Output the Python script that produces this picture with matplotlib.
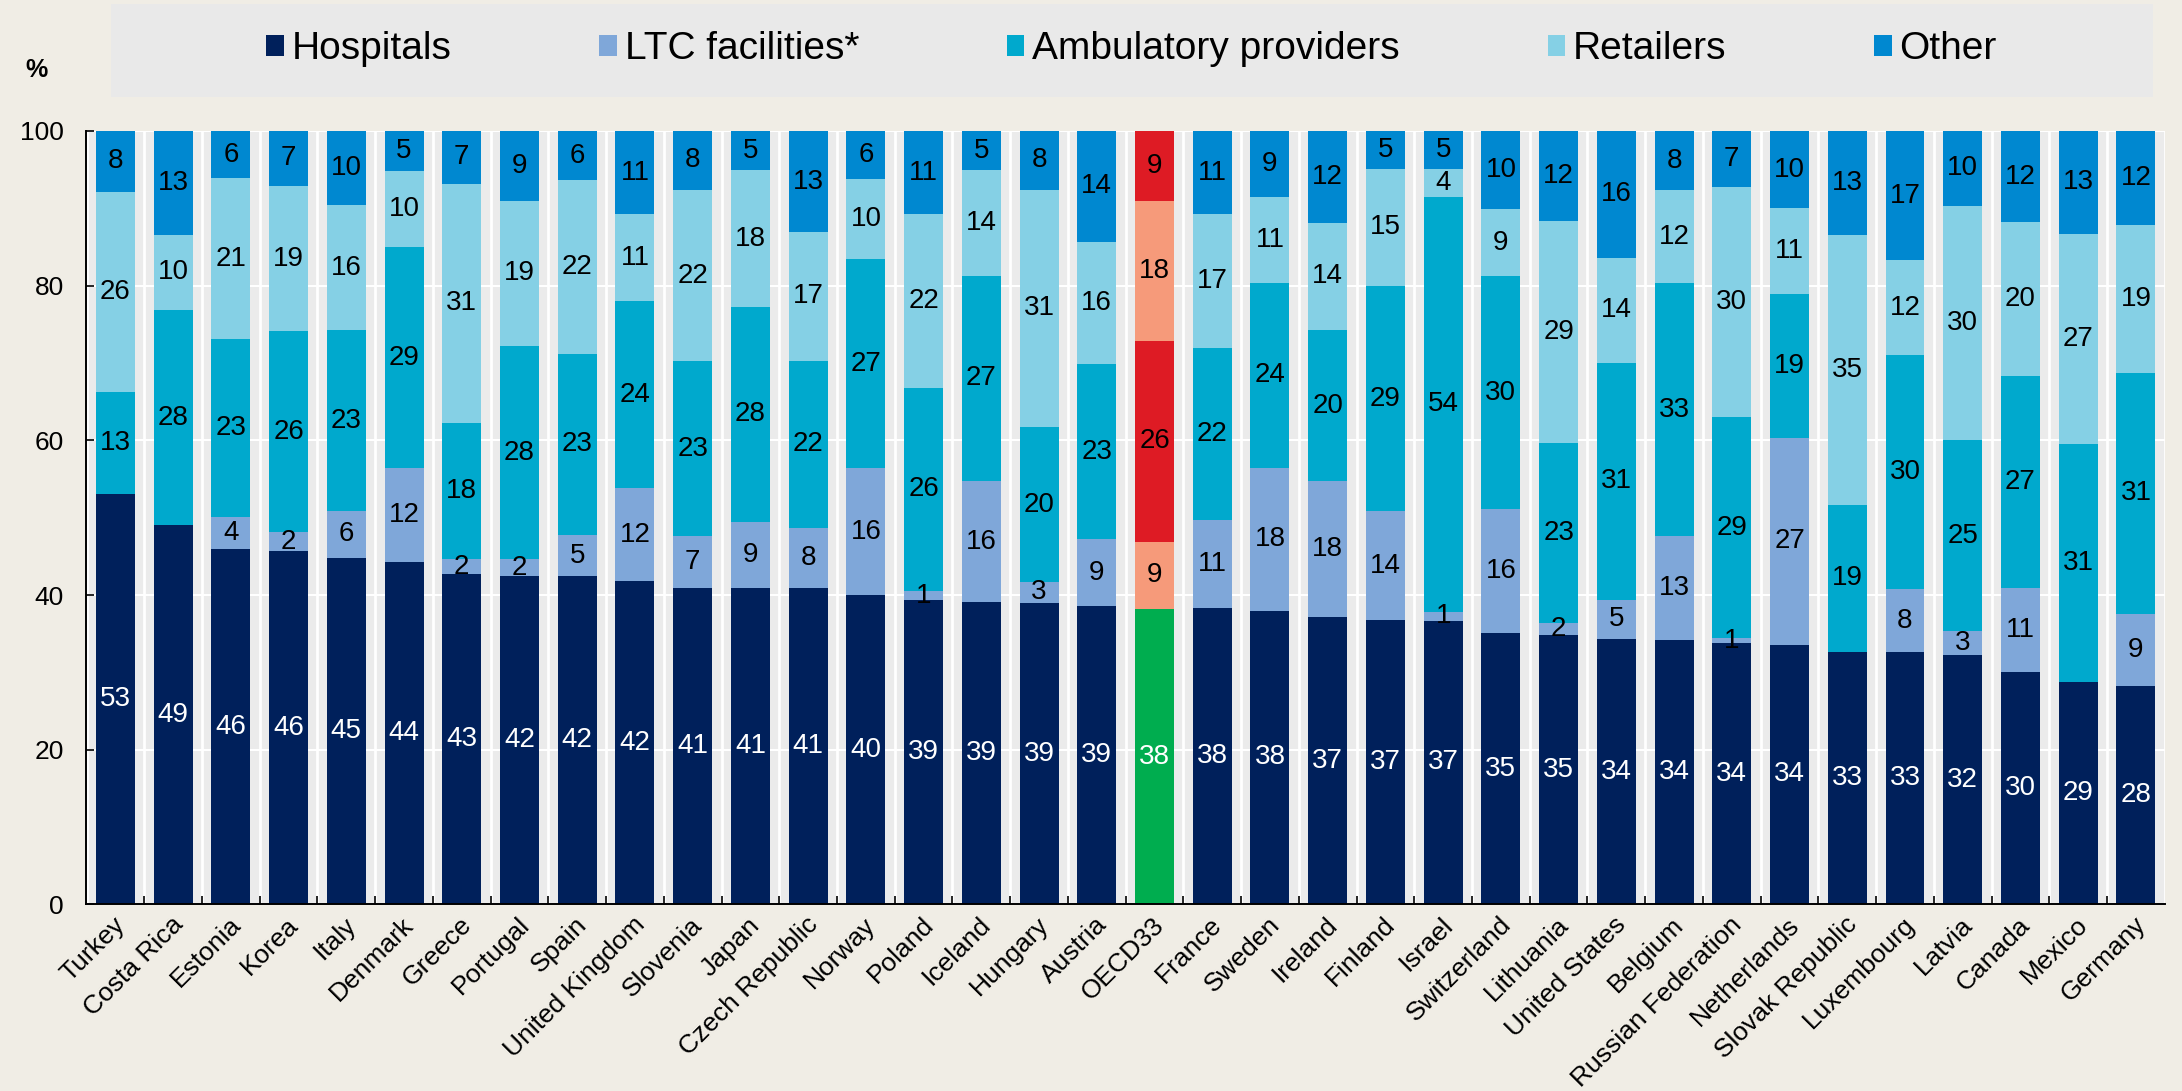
import matplotlib
matplotlib.use('Agg')
import matplotlib.pyplot as plt
from matplotlib.patches import Rectangle
from matplotlib.transforms import ScaledTranslation
import numpy as np

plt.rcParams['font.family'] = ['Liberation Sans', 'DejaVu Sans']

countries = ['Turkey', 'Costa Rica', 'Estonia', 'Korea', 'Italy', 'Denmark', 'Greece', 'Portugal',
             'Spain', 'United Kingdom', 'Slovenia', 'Japan', 'Czech Republic', 'Norway', 'Poland',
             'Iceland', 'Hungary', 'Austria', 'OECD33', 'France', 'Sweden', 'Ireland', 'Finland',
             'Israel', 'Switzerland', 'Lithuania', 'United States', 'Belgium', 'Russian Federation',
             'Netherlands', 'Slovak Republic', 'Luxembourg', 'Latvia', 'Canada', 'Mexico', 'Germany']

hospitals = [53.1, 49.1, 45.9, 45.7, 44.8, 44.3, 42.7, 42.5, 42.4, 41.8, 40.9, 40.9, 40.9, 40.0, 39.3,
             39.1, 39.0, 38.6, 38.2, 38.3, 38.0, 37.1, 36.8, 36.7, 35.1, 34.8, 34.3, 34.2, 33.8,
             33.6, 32.6, 32.6, 32.3, 30.0, 28.8, 28.2]
ltc = [0.0, 0.0, 4.2, 2.4, 6.1, 12.1, 1.9, 2.1, 5.4, 12.0, 6.7, 8.6, 7.8, 16.4, 1.2,
       15.6, 2.7, 8.6, 8.7, 11.4, 18.4, 17.6, 14.0, 1.1, 16.0, 1.6, 5.1, 13.4, 0.6,
       26.7, 0.0, 8.2, 3.0, 10.9, 0.0, 9.4]
ambulatory = [13.1, 27.7, 23.0, 26.0, 23.3, 28.6, 17.7, 27.6, 23.4, 24.2, 22.6, 27.7, 21.6, 27.0, 26.3,
              26.6, 20.0, 22.7, 25.9, 22.3, 24.0, 19.6, 29.2, 53.7, 30.1, 23.2, 30.6, 32.7, 28.6,
              18.6, 19.1, 30.2, 24.7, 27.4, 30.7, 31.1]
retailers = [25.9, 9.8, 20.8, 18.8, 16.2, 9.8, 30.9, 18.8, 22.4, 11.2, 22.2, 17.7, 16.6, 10.4, 22.4,
             13.6, 30.7, 15.8, 18.2, 17.2, 11.0, 13.8, 15.1, 3.6, 8.7, 28.7, 13.6, 12.0, 29.7,
             11.1, 34.9, 12.3, 30.3, 19.9, 27.2, 19.2]
other = [7.9, 13.4, 6.1, 7.1, 9.6, 5.2, 6.8, 9.0, 6.4, 10.8, 7.6, 5.1, 13.1, 6.2, 10.8,
         5.1, 7.6, 14.3, 9.0, 10.8, 8.6, 11.9, 4.9, 4.9, 10.1, 11.7, 16.4, 7.7, 7.3,
         10.0, 13.4, 16.7, 9.7, 11.8, 13.3, 12.1]

series_names = ['Hospitals', 'LTC facilities*', 'Ambulatory providers', 'Retailers', 'Other']
series_colors = ['#00205b', '#7fa7d9', '#00a9cd', '#85d0e5', '#0088d0']
oecd_colors = ['#00ad4f', '#f69a7a', '#de1b24', '#f69a7a', '#de1b24']
label_colors = ['white', 'black', 'black', 'black', 'black']

fig = plt.figure(figsize=(21.82, 10.91), dpi=100, facecolor='#f0ede5')
ax = fig.add_axes([0.0394, 0.171, 0.9527, 0.709])
ax.set_facecolor('#ebebeb')

x = np.arange(len(countries))
bottoms = np.zeros(len(countries))
for name, vals, col, ocol, tcol in zip(series_names, [hospitals, ltc, ambulatory, retailers, other],
                                       series_colors, oecd_colors, label_colors):
    vals = np.array(vals)
    colors = [ocol if c == 'OECD33' else col for c in countries]
    ax.bar(x, vals, 0.675, bottom=bottoms, color=colors, label=name, zorder=3)
    for xi, v, b in zip(x, vals, bottoms):
        if v > 0:
            ax.text(xi, b + v / 2, f"{v:.0f}", ha='center', va='center', fontsize=20,
                    color=tcol, zorder=4)
    bottoms += vals

ax.set_xlim(-0.51, 35.5)
ax.set_ylim(0, 100)
ax.set_yticks(range(0, 101, 20))
ax.tick_params(axis='y', direction='in', length=6, width=1.2, labelsize=19, pad=16)
ax.set_xticks(x)
ax.set_xticklabels(countries, rotation=45, ha='right', va='center', rotation_mode='anchor',
                   fontsize=19)
ax.tick_params(axis='x', length=0, pad=12)
shift = ScaledTranslation(6 / 100, 0, fig.dpi_scale_trans)
for lbl in ax.get_xticklabels():
    lbl.set_transform(lbl.get_transform() + shift)
ax.set_xticks(np.arange(0.5, 35, 1), minor=True)
ax.tick_params(axis='x', which='minor', direction='in', length=6, width=1.2)

for gx in np.arange(-0.5, 36, 1):
    ax.axvline(gx, color='white', lw=2, zorder=1)
for gy in range(20, 101, 20):
    ax.axhline(gy, color='white', lw=1.5, zorder=1)

for s in ['top', 'right']:
    ax.spines[s].set_visible(False)
for s in ['left', 'bottom']:
    ax.spines[s].set_linewidth(1.4)
    ax.spines[s].set_zorder(5)

fig.text(0.0165, 0.936, '%', fontweight='bold', fontsize=18, ha='center', va='center')

fig.patches.append(Rectangle((0.0509, 0.911), 0.936, 0.085, transform=fig.transFigure,
                             facecolor='#e9e9e9', edgecolor='none', zorder=0))
handles, labels = ax.get_legend_handles_labels()
fig.legend(handles, labels, loc='center', bbox_to_anchor=(0.5186, 0.955), ncol=5, frameon=False,
           fontsize=28, handlelength=0.45, handleheight=0.45, handletextpad=0.2,
           columnspacing=3.8)

fig.savefig('out.png', dpi=100, facecolor=fig.get_facecolor())
